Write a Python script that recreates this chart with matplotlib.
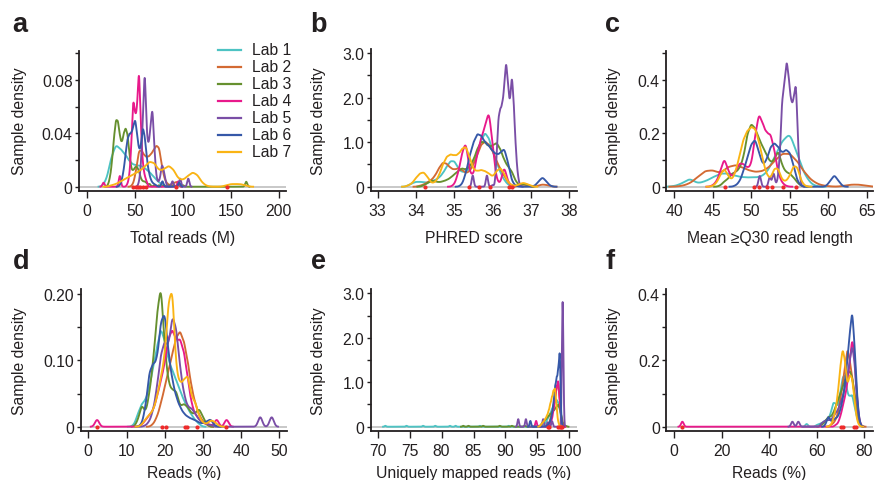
import numpy as np
import matplotlib
matplotlib.use('Agg')
import matplotlib.pyplot as plt
from matplotlib.lines import Line2D

plt.rcParams['font.family'] = ['Liberation Sans', 'DejaVu Sans']

# ------------------------------------------------------------------ data
labs = ['Lab 1', 'Lab 2', 'Lab 3', 'Lab 4', 'Lab 5', 'Lab 6', 'Lab 7']
lab_colors = ['#4DC3C3', '#D36A33', '#66902F', '#E8198B', '#7A4EA6', '#3658A8', '#FAB414']

# Each lab: sample values and the percentage of that lab's samples at each value;
# densities are Gaussian kernel estimates with the per-lab bandwidth.

# a  Total reads (M)
a_values = [
    [20, 25, 30, 35, 40, 45, 50, 55, 60, 65, 70, 75, 80],
    [48, 51, 54, 57, 60, 63, 66, 69, 72, 75, 78, 81, 84, 88, 91, 94],
    [22, 24, 26, 28, 30, 32, 34, 36, 38, 40, 42, 44, 46, 48, 50, 52, 54, 56, 58, 60, 62, 65, 70, 75, 80, 85, 90, 95, 100, 166],
    [17, 34, 42, 44, 46, 48, 50, 52, 54, 56, 58, 60, 62, 95],
    [54, 56, 58, 60, 62, 64, 66, 68, 70, 72, 74, 76, 78, 80, 82, 89, 97, 105.5],
    [34, 36, 38, 40, 42, 44, 46, 48, 50, 52, 54, 56, 58, 60, 62, 64, 66, 68, 70, 72, 78.5, 96],
    [25, 30, 35, 40, 45, 50, 55, 60, 65, 70, 75, 80, 85, 90, 95, 100, 105, 110, 115, 120, 125, 145, 150, 155, 160, 165],
]
a_pct = [
    [2.5, 11, 16, 14, 12, 9, 8, 8, 7, 5.5, 3.5, 1.5, 0.5],
    [0.6, 3.6, 8.4, 8.1, 6.9, 6.6, 7.2, 8.1, 9.3, 9, 4.5, 1.5, 0.6, 0.6, 0.9, 1.2],
    [0.4, 1.6, 4, 7.6, 10.2, 10, 7.6, 6.4, 8, 8.9, 8, 5, 2.6, 2.4, 3, 3, 2.4, 1.2, 0.8, 0.8, 0.6, 0.55, 0.3, 0.3, 0.3, 0.3, 0.3, 0.55, 0.3, 1.02],
    [0.83, 2.2, 0.4, 1.6, 6, 14, 10.5, 11.5, 19, 8.5, 3.4, 1.6, 0.8, 1.1],
    [0.6, 3, 10, 19, 8, 6, 9, 12.5, 6, 1.6, 0.6, 1.2, 3.6, 2.4, 0.6, 1.1, 1.66, 1.66],
    [0.2, 1, 2.4, 5, 7.2, 8, 8, 9, 10.3, 8, 5.4, 6, 9.2, 7.6, 4.4, 2.4, 1.2, 0.6, 0.4, 0.2, 1.1, 0.83],
    [0.5, 1, 2, 3, 4, 5, 6, 7.5, 9.5, 9, 6, 6.5, 8, 6.5, 3, 2.5, 4, 5.5, 4.5, 1.5, 0.25, 0.5, 1, 1, 1, 0.5],
]
a_bw = [2.75, 1.65, 1.1, 1.1, 1.1, 1.1, 2.75]
a_red = [48, 51, 53, 55, 58, 61, 93, 146]

# b  PHRED score
b_values = [
    [33.8, 33.9, 34.0, 34.1, 34.2, 34.3, 34.4, 34.5, 34.6, 34.7, 34.8, 34.9, 35.0, 35.1, 35.2, 35.3, 35.4, 35.5, 35.6, 35.7, 35.8, 35.9, 36.0, 36.1, 36.2, 36.3, 36.4],
    [34.1, 34.2, 34.3, 34.4, 34.5, 34.6, 34.7, 34.8, 34.9, 35.0, 35.1, 35.2, 35.3, 35.4, 35.5, 35.6, 35.7, 35.8, 35.9, 36.0, 36.1, 36.2, 36.3, 36.4, 36.5, 36.7, 36.8, 36.9, 37.2, 37.3, 37.4, 37.5],
    [34.2, 34.3, 34.4, 34.5, 34.6, 34.7, 34.8, 34.9, 35.0, 35.1, 35.2, 35.3, 35.4, 35.5, 35.6, 35.7, 35.8, 35.9, 36.0, 36.1, 36.2, 36.3, 36.4, 36.5, 36.6, 36.7, 36.8, 36.9],
    [35.0, 35.1, 35.2, 35.3, 35.4, 35.5, 35.6, 35.7, 35.8, 35.9, 36.0, 36.1, 36.2, 36.3, 36.4],
    [35.48, 35.85, 36.0, 36.1, 36.15, 36.2, 36.25, 36.3, 36.35, 36.4, 36.45, 36.5, 36.55, 36.6, 36.65, 36.7],
    [35.2, 35.3, 35.4, 35.5, 35.6, 35.7, 35.8, 35.9, 36.0, 36.1, 36.2, 36.3, 36.4, 36.5, 36.6, 37.1, 37.2, 37.3, 37.4, 37.5],
    [33.8, 33.9, 34.0, 34.1, 34.2, 34.3, 34.4, 34.5, 34.6, 34.7, 34.8, 34.9, 35.0, 35.1, 35.2, 35.3, 35.4, 35.5, 35.6, 35.7, 35.8, 35.9, 36.0, 36.1, 36.2, 36.3, 36.4, 36.5, 36.6, 36.7, 36.8, 36.9, 37.0],
]
b_pct = [
    [0.3, 0.8, 1.1, 1.1, 1.0, 0.9, 1.2, 1.5, 2, 3, 4.5, 5.8, 5.8, 4.2, 3.2, 3.5, 4, 5, 7.5, 10.5, 12.2, 11, 8, 5.5, 3.2, 1.5, 0.5],
    [0.2, 0.5, 1, 1.5, 2.5, 4.2, 5.5, 5.2, 4.2, 3.8, 4.2, 3.8, 3, 3.5, 5, 7.2, 9.5, 10.2, 9.5, 8, 5.8, 4, 2.5, 1, 0.3, 0.3, 0.5, 0.3, 0.3, 0.5, 0.4, 0.2],
    [0.3, 0.8, 1.4, 1.2, 1, 1.2, 1.5, 2, 2.8, 3.5, 4.2, 3.8, 4.5, 6, 8.5, 10.2, 10, 9, 9.2, 10, 8.5, 6, 4.5, 3.5, 1.2, 0.3, 0.6, 0.5],
    [0.5, 3, 7.5, 10.5, 3, 2.5, 7.5, 11, 13.5, 17.5, 9.5, 1.5, 0.5, 5, 1],
    [1.72, 1.72, 0.25, 3, 8, 8.75, 9.25, 11, 14.5, 11.5, 9, 13, 9.5, 4.5, 1.5, 0.25],
    [0.5, 3, 7, 10, 12, 11.5, 10, 9.2, 8, 7.2, 7.5, 8.8, 5.5, 1.2, 0.2, 0.2, 1.2, 2.2, 1.2, 0.2],
    [0.3, 0.8, 2, 3, 3.3, 2.2, 0.8, 1, 2.5, 5, 6.8, 7.3, 7, 7.2, 8.5, 9.2, 6.5, 3.8, 3.5, 3.8, 3.5, 3, 2.2, 3.5, 4.3, 3, 1, 0.3, 0.2, 0.6, 0.9, 0.6, 0.2],
]
b_bw = [0.055, 0.055, 0.055, 0.055, 0.0275, 0.055, 0.055]
b_red = [34.24, 35.37, 35.64, 35.93, 36.42, 36.5]

# c  Mean >=Q30 read length
c_values = [
    [40, 41, 42, 43, 44, 45, 46, 47, 48, 49, 50, 51, 52, 53, 54, 55, 56, 57, 58],
    [41, 42, 43, 44, 45, 46, 47, 48, 49, 50, 51, 52, 53, 54, 55, 56, 57, 58, 59, 60, 62, 63, 64, 65],
    [46.0, 46.5, 47.0, 47.5, 48.0, 48.5, 49.0, 49.5, 50.0, 50.5, 51.0, 51.5, 52.0, 52.5, 53.0, 53.5, 54.0, 54.5, 55.0, 55.5, 56.0, 56.5],
    [45.0, 45.5, 46.0, 46.5, 47.0, 47.5, 48.0, 48.5, 49.0, 49.5, 50.0, 50.5, 51.0, 51.5, 52.0, 52.5, 53.0, 53.5, 54.0, 54.5],
    [51.1, 52.4, 52.9, 53.4, 53.7, 54.0, 54.3, 54.6, 54.9, 55.2, 55.5, 55.8, 56.1, 56.4],
    [48.0, 48.5, 49.0, 49.5, 50.0, 50.5, 51.0, 51.5, 52.0, 52.5, 53.0, 53.5, 54.0, 54.5, 55.0, 55.5, 56.0, 56.5, 59.9, 60.3, 60.8, 61.3, 61.7],
    [45.0, 45.5, 46.0, 46.5, 47.0, 47.5, 48.0, 48.5, 49.0, 49.5, 50.0, 50.5, 51.0, 51.5, 52.0, 52.5, 53.0, 53.5, 54.0, 54.5, 55.0, 55.5, 56.0, 56.5, 57.0],
]
c_pct = [
    [0.2, 1.2, 3.2, 1.2, 2, 3.5, 5, 5, 4, 3.5, 3.5, 3.5, 5, 11, 17, 20.5, 12, 4, 0.5],
    [0.3, 1.2, 3.5, 6, 6.2, 5, 7.5, 8.2, 7, 5.8, 5.5, 6.5, 9.5, 12.5, 12.5, 9.5, 5, 2, 0.6, 0.2, 0.3, 0.8, 0.8, 0.3],
    [0.25, 1, 1.5, 2.5, 2.75, 3.5, 5.5, 10, 11.9, 11, 9, 7.5, 6, 4.5, 5, 7, 4, 2.75, 2.5, 1.75, 0.75, 0.15],
    [0.25, 1, 3, 5.5, 3, 1.75, 3, 4.5, 4.25, 3.5, 4, 9.5, 14, 11.75, 10, 10, 7, 2.5, 0.75, 0.15],
    [1.65, 1.45, 2, 0.6, 3, 10, 11.4, 14.6, 12, 9.3, 9.6, 12.5, 4.2, 0.3],
    [0.25, 1, 3, 5.5, 8, 9, 6.5, 4, 5, 7.5, 8.25, 7.5, 6.25, 7, 6.5, 4, 1, 0.15, 0.22, 1.1, 2.3, 1.1, 0.22],
    [0.15, 0.75, 2.25, 3.5, 2, 1.25, 3, 6, 9, 10.5, 11.25, 11, 8.5, 5, 2.25, 1.5, 3.5, 3.5, 1.25, 1, 2, 4, 3.75, 1, 0.15],
]
c_bw = [0.55, 0.55, 0.275, 0.275, 0.165, 0.275, 0.275]
c_red = [46.6, 50.4, 51.0, 52.0, 52.7, 54.06, 55.8]

# d  Reads (%)
d_values = [
    [12, 13, 14, 15, 16, 17, 18, 19, 20, 21, 22, 23, 24, 25, 26, 27, 28, 29],
    [17, 18, 19, 20, 21, 22, 23, 24, 25, 26, 27, 28, 29, 30, 31],
    [13, 14, 15, 16, 17, 18, 19, 20, 21, 22, 23, 24, 25, 26, 27, 28, 29, 30, 31],
    [2.3, 14, 15, 16, 17, 18, 19, 20, 21, 22, 23, 24, 25, 26, 27, 28, 29, 30, 31, 32, 33.6, 36.2],
    [15, 16, 17, 18, 19, 20, 21, 22, 23, 24, 25, 26, 27, 28, 29, 30, 31, 32, 45, 48],
    [14, 15, 16, 17, 18, 19, 20, 21, 22, 23, 24, 25, 26, 27, 28, 29, 30, 31, 32, 33],
    [14, 15, 16, 17, 18, 19, 20, 21, 22, 23, 24, 25, 26, 27, 28, 29, 30, 31, 32, 33, 34],
]
d_pct = [
    [0.3, 2, 3.5, 4, 6, 9, 12, 15, 13, 10, 8.5, 7, 5.5, 4, 2.8, 1.8, 1, 0.4],
    [0.4, 1.5, 3.5, 6, 8.5, 11, 13.5, 14.5, 13, 10, 6, 3.5, 1.8, 0.8, 0.3],
    [1, 3.5, 2, 5, 10, 17, 22, 12, 6.5, 5.5, 5.5, 3, 3.5, 3, 2, 2, 2.8, 1.5, 0.3],
    [1.38, 0.3, 1, 1.8, 2.5, 4.5, 7, 9.5, 13.5, 14.8, 13, 13.3, 11.5, 7.5, 3.5, 1.8, 1.2, 0.6, 0.4, 0.3, 1.38, 1.38],
    [0.2, 0.8, 2.5, 6, 11, 13, 12, 17, 15, 9, 5, 3, 2.8, 2, 1, 0.6, 0.4, 0.3, 1.94, 1.94],
    [0.4, 3, 8.5, 9.5, 10, 16, 17.5, 11, 7, 4.5, 3, 2, 1.5, 1.2, 1, 0.6, 0.5, 0.8, 1.2, 0.2],
    [0.3, 1.2, 1.8, 2.5, 4.5, 7.5, 10.5, 19, 21.5, 8.5, 6.5, 7, 8, 4.5, 3.8, 1.5, 0.6, 0.4, 1, 0.8, 0.2],
]
d_bw = [0.55] * 7
d_red = [2.2, 19.4, 20.3, 25.3, 25.8, 28.4, 36.05]

# e  Uniquely mapped reads (%)
e_values = [
    [71.2, 74.5, 77.1, 79.0, 81.3, 82.2, 86.0, 90.5, 96.0, 96.25, 96.5, 96.75, 97.0, 97.25, 97.5, 97.75, 98.0, 98.25, 98.5, 98.75, 99.0],
    [96.75, 97.0, 97.25, 97.5, 97.75, 98.0, 98.25, 98.5, 98.75, 99.0],
    [83.4, 84.2, 86.5, 89.1, 91.0, 93.0, 95.5, 95.75, 96.0, 96.25, 96.5, 96.75, 97.0, 97.25, 97.5, 97.75, 98.0, 98.25, 98.5, 98.75, 99.0, 99.25, 99.5],
    [94.8, 97.0, 97.25, 97.5, 97.75, 98.0, 98.25, 98.5, 98.75, 99.0],
    [92.0, 93.2, 95.9, 96.6, 97.3, 98.95],
    [93.9, 96.5, 96.75, 97.0, 97.25, 97.5, 97.75, 98.0, 98.25, 98.5, 98.75],
    [95.5, 95.75, 96.0, 96.25, 96.5, 96.75, 97.0, 97.25, 97.5, 97.75, 98.0, 98.25, 98.5],
]
e_pct = [
    [0.6, 0.6, 0.6, 0.6, 0.6, 0.6, 0.6, 0.6, 1, 2, 3.75, 5.5, 7.5, 9.5, 12, 14, 15, 13.75, 10, 3.75, 0.75],
    [1.25, 3.75, 7.5, 11.25, 16.25, 21.25, 25, 15, 3.75, 0.5],
    [0.6, 0.6, 0.6, 0.6, 0.6, 0.6, 1, 2, 3, 4, 5, 6, 7, 8, 9, 10, 11.25, 12.5, 10.5, 6.25, 2, 0.5, 0.5],
    [3.9, 1.25, 3.75, 8.75, 15, 22.5, 26.25, 15, 3.75, 0.5],
    [5.1, 5.1, 5.1, 3, 3.6, 84.3],
    [3.9, 0.5, 1.5, 3, 6.25, 12.5, 22.5, 27.5, 31.25, 45, 2.5],
    [0.75, 2, 3, 4.5, 6.25, 8.75, 12.5, 16.25, 20, 22, 11.25, 2.5, 0.5],
]
e_bw = [0.12] * 7
e_red = [96.6, 96.8, 98.3, 98.5, 98.7, 98.9]

# f  Reads (%)
f_values = [
    [55.8, 60, 61, 62, 63, 64, 65, 66, 67, 68, 69, 70, 71, 72, 73, 74, 75, 76, 77, 78],
    [66, 67, 68, 69, 70, 71, 72, 73, 74, 75, 76, 77, 78, 79],
    [62, 63, 64, 65, 66, 67, 68, 69, 70, 71, 72, 73, 74, 75, 76, 77, 78],
    [3.4, 68, 69, 70, 71, 72, 73, 74, 75, 76, 77, 78],
    [49.8, 52.3, 62, 63, 64, 65, 66, 67, 68, 69, 70, 71, 72, 73, 74, 75, 76, 77, 78],
    [64, 65, 66, 67, 68, 69, 70, 71, 72, 73, 74, 75, 76, 77, 78],
    [66, 67, 68, 69, 70, 71, 72, 73, 74, 75, 76, 77, 78],
]
f_pct = [
    [1.1, 0.5, 0.8, 1, 1.5, 2, 2.5, 4, 7.5, 7, 6, 10, 15, 16, 10, 9, 10, 6, 3, 0.8],
    [0.5, 1, 2, 4, 8, 13, 18, 24, 20, 15, 10, 5, 1.5, 0.3],
    [0.5, 1, 2, 3, 3, 4, 6, 8, 10, 12, 14, 16, 17, 15, 10, 4, 1],
    [2.07, 0.5, 1, 3, 6, 9, 13, 20, 27, 22, 9, 2],
    [2.07, 2.07, 1, 1.5, 2, 2, 2, 3, 4, 5, 7, 9, 12, 15, 20, 25, 20, 8, 1.5],
    [1, 3.5, 1.5, 2, 2.5, 3, 5, 8, 13, 20, 28, 36, 25, 10, 2],
    [0.5, 2, 5, 10, 18, 24, 20, 12, 16, 15, 8, 2, 0.3],
]
f_bw = [0.55] * 7
f_red = [3.1, 70.2, 71.0, 75.8, 76.6]

# axis ticks / labels
a_xticks = [0, 50, 100, 150, 200]
a_yticks = [0, 0.02, 0.04, 0.06, 0.08, 0.10]
a_ylabels = ['0', '', '0.04', '', '0.08', '']
b_xticks = [33, 34, 35, 36, 37, 38]
b_yticks = [0, 0.5, 1.0, 1.5, 2.0, 2.5, 3.0]
b_ylabels = ['0', '', '1.0', '', '2.0', '', '3.0']
c_xticks = [40, 45, 50, 55, 60, 65]
c_yticks = [0, 0.1, 0.2, 0.3, 0.4, 0.5]
c_ylabels = ['0', '', '0.2', '', '0.4', '']
d_xticks = [0, 10, 20, 30, 40, 50]
d_yticks = [0, 0.05, 0.10, 0.15, 0.20]
d_ylabels = ['0', '', '0.10', '', '0.20']
e_xticks = [70, 75, 80, 85, 90, 95, 100]
e_yticks = [0, 0.5, 1.0, 1.5, 2.0, 2.5, 3.0]
e_ylabels = ['0', '', '1.0', '', '2.0', '', '3.0']
f_xticks = [0, 20, 40, 60, 80]
f_yticks = [0, 0.1, 0.2, 0.3, 0.4]
f_ylabels = ['0', '', '0.2', '', '0.4']

xlabels = ['Total reads (M)', 'PHRED score', 'Mean \u2265Q30 read length',
           'Reads (%)', 'Uniquely mapped reads (%)', 'Reads (%)']
letters = ['a', 'b', 'c', 'd', 'e', 'f']

# ------------------------------------------------------------------ figure
W, H = 875, 481
fig = plt.figure(figsize=(W / 100, H / 100), dpi=100)
INK = '#231F20'
FS = 11.3


def kde(values, pct, bw):
    v = np.asarray(values, float)
    w = np.asarray(pct, float) / 100.0
    x = np.linspace(v.min() - 3 * bw, v.max() + 3 * bw, 4000)
    z = (x[None, :] - v[:, None]) / bw
    y = (w[:, None] * np.exp(-0.5 * z ** 2)).sum(0) / (bw * np.sqrt(2 * np.pi))
    return x, y


# pixel geometry: (left, top, right, bottom) and data anchors
panels = [
    dict(rect=(79, 52.3, 286, 192.3), xlim=(-8.67, 207.6), ylim=(-0.00345, 0.1015),
         vals=a_values, pct=a_pct, bw=a_bw, red=a_red, xt=a_xticks, yt=a_yticks, yl=a_ylabels),
    dict(rect=(370.7, 50, 577, 192.3), xlim=(32.817, 38.201), ylim=(-0.103, 3.09),
         vals=b_values, pct=b_pct, bw=b_bw, red=b_red, xt=b_xticks, yt=b_yticks, yl=b_ylabels),
    dict(rect=(666, 52.3, 873, 192.3), xlim=(38.92, 65.82), ylim=(-0.01725, 0.5076),
         vals=c_values, pct=c_pct, bw=c_bw, red=c_red, xt=c_xticks, yt=c_yticks, yl=c_ylabels),
    dict(rect=(80.7, 290, 287.3, 432.3), xlim=(-1.99, 52.09), ylim=(-0.00693, 0.2075),
         vals=d_values, pct=d_pct, bw=d_bw, red=d_red, xt=d_xticks, yt=d_yticks, yl=d_ylabels),
    dict(rect=(370.7, 290, 577, 432.3), xlim=(68.904, 101.2), ylim=(-0.1034, 3.096),
         vals=e_values, pct=e_pct, bw=e_bw, red=e_red, xt=e_xticks, yt=e_yticks, yl=e_ylabels),
    dict(rect=(666, 290, 873, 432.3), xlim=(-3.5, 83.8), ylim=(-0.01387, 0.415),
         vals=f_values, pct=f_pct, bw=f_bw, red=f_red, xt=f_xticks, yt=f_yticks, yl=f_ylabels),
]

letter_pos = [(12.5, 31.5), (310.5, 31.5), (605.5, 31.5), (12.5, 269.3), (310.5, 269.3), (606, 269.3)]
ylabel_x = [20, 318.3, 613.3, 20, 318.3, 613.3]
ylabel_y = [121, 121, 121, 361, 361, 361]
xlabel_base = [243, 243, 243, 478.5, 478.5, 478.5]

for i, p in enumerate(panels):
    l, t, r, b = p['rect']
    ax = fig.add_axes([l / W, 1 - b / H, (r - l) / W, (b - t) / H])
    ax.set_xlim(*p['xlim'])
    ax.set_ylim(*p['ylim'])
    ax.axhline(0, color='#C4C4C4', lw=1.3, zorder=0.5)
    for k in range(7):
        x, y = kde(p['vals'][k], p['pct'][k], p['bw'][k])
        ax.plot(x, y, color=lab_colors[k], lw=1.35, zorder=2 + k * 0.1, solid_joinstyle='round')
    ax.plot(p['red'], np.zeros(len(p['red'])), 'o', color='#EE2A2A', ms=3.0, mec='none', zorder=5)
    for s in ['top', 'right']:
        ax.spines[s].set_visible(False)
    for s in ['left', 'bottom']:
        ax.spines[s].set_color(INK)
        ax.spines[s].set_linewidth(1.3)
    ax.set_xticks(p['xt'])
    ax.set_xticklabels([f'{v:g}' for v in p['xt']])
    ax.set_yticks(p['yt'])
    ax.set_yticklabels(p['yl'])
    ax.tick_params(axis='x', length=5, width=1.0, pad=3.5, labelsize=FS, colors=INK)
    ax.tick_params(axis='y', length=3, width=1.0, pad=1.5, labelsize=FS, colors=INK)
    ax.patch.set_alpha(0)

    cx = (l + r) / 2
    fig.text(cx / W, 1 - xlabel_base[i] / H, xlabels[i], ha='center', va='baseline',
             fontsize=FS, color=INK)
    fig.text(ylabel_x[i] / W, 1 - ylabel_y[i] / H, 'Sample density', rotation=90,
             ha='center', va='center', fontsize=FS, color=INK)
    lx, ly = letter_pos[i]
    fig.text(lx / W, 1 - ly / H, letters[i], ha='left', va='baseline', fontsize=19.5,
             fontweight='bold', color=INK)

# legend (panel a)
for k, lab in enumerate(labs):
    yy = 50.7 + 17.0 * k
    fig.add_artist(Line2D([217.7 / W, 240.7 / W], [1 - yy / H, 1 - yy / H],
                          color=lab_colors[k], lw=1.6))
    fig.text(251.7 / W, 1 - yy / H, lab, ha='left', va='center', fontsize=FS, color=INK)

fig.savefig('out.png', dpi=100)
